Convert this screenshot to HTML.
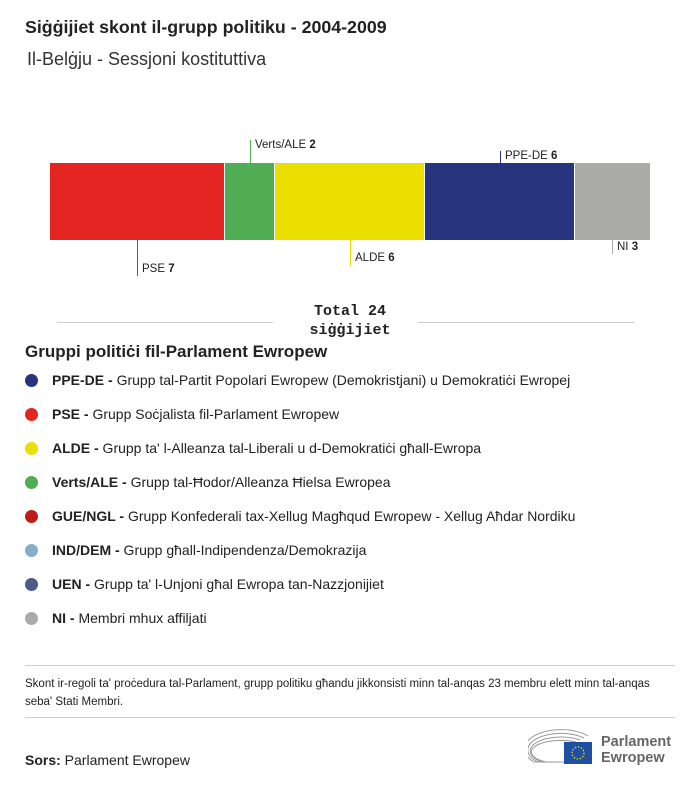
<!DOCTYPE html>
<html><head><meta charset="utf-8"><style>
body{margin:0;width:700px;height:786px;background:#fff;font-family:"Liberation Sans",sans-serif;color:#222;position:relative;overflow:hidden}
.a{position:absolute;white-space:nowrap}
.t{left:25px;top:17px;font-size:17.8px;font-weight:bold}
.s{left:27px;top:49px;font-size:18px;color:#333}
.seg{position:absolute;top:163px;height:77px}
.lab{font-size:11.5px}
.lg{left:25px;font-size:14px}
.dot{display:inline-block;width:13px;height:13px;border-radius:50%;vertical-align:-2px;margin-right:14px}
.vl{position:absolute;width:1px}
</style></head><body>
<div class="a t">Siġġijiet skont il-grupp politiku - 2004-2009</div>
<div class="a s">Il-Belġju - Sessjoni kostituttiva</div>

<div class="seg" style="left:50px;width:174px;background:#e42522"></div>
<div class="seg" style="left:225px;width:49px;background:#50ad54"></div>
<div class="seg" style="left:275px;width:149px;background:#ebdf00"></div>
<div class="seg" style="left:425px;width:149px;background:#27357e"></div>
<div class="seg" style="left:575px;width:75px;background:#aaaaa9"></div>

<div class="vl" style="left:250px;top:140px;height:23px;background:#50ad54"></div>
<div class="a lab" style="left:255px;top:139px">Verts/ALE <b>2</b></div>
<div class="vl" style="left:500px;top:151px;height:12px;background:#27357e"></div>
<div class="a lab" style="left:505px;top:150px">PPE-DE <b>6</b></div>
<div class="vl" style="left:137px;top:240px;height:36px;background:#e42522"></div>
<div class="a lab" style="left:142px;top:263px">PSE <b>7</b></div>
<div class="vl" style="left:350px;top:240px;height:26px;background:#ebdf00"></div>
<div class="a lab" style="left:355px;top:252px">ALDE <b>6</b></div>
<div class="vl" style="left:612px;top:240px;height:14px;background:#aaa"></div>
<div class="a lab" style="left:617px;top:241px">NI <b>3</b></div>

<div class="a" style="left:57px;top:322px;width:216px;height:1px;background:#ccc"></div>
<div class="a" style="left:418px;top:322px;width:216px;height:1px;background:#ccc"></div>
<div class="a" style="left:300px;top:302px;width:100px;text-align:center;font-family:'Liberation Mono',monospace;font-weight:bold;font-size:15px;line-height:19px">Total 24<br>siġġijiet</div>

<div class="a" style="left:25px;top:342px;font-size:17px;font-weight:bold">Gruppi politiċi fil-Parlament Ewropew</div>
<div class="a lg" style="top:372px"><span class="dot" style="background:#27357e"></span><b>PPE-DE -</b> Grupp tal-Partit Popolari Ewropew (Demokristjani) u Demokratiċi Ewropej</div>
<div class="a lg" style="top:406px"><span class="dot" style="background:#e42522"></span><b>PSE -</b> Grupp Soċjalista fil-Parlament Ewropew</div>
<div class="a lg" style="top:440px"><span class="dot" style="background:#ebdf00"></span><b>ALDE -</b> Grupp ta' l-Alleanza tal-Liberali u d-Demokratiċi għall-Ewropa</div>
<div class="a lg" style="top:474px"><span class="dot" style="background:#50ad54"></span><b>Verts/ALE -</b> Grupp tal-Ħodor/Alleanza Ħielsa Ewropea</div>
<div class="a lg" style="top:508px"><span class="dot" style="background:#c01b1b"></span><b>GUE/NGL -</b> Grupp Konfederali tax-Xellug Magħqud Ewropew - Xellug Aħdar Nordiku</div>
<div class="a lg" style="top:542px"><span class="dot" style="background:#86aecb"></span><b>IND/DEM -</b> Grupp għall-Indipendenza/Demokrazija</div>
<div class="a lg" style="top:576px"><span class="dot" style="background:#4d5b8a"></span><b>UEN -</b> Grupp ta' l-Unjoni għal Ewropa tan-Nazzjonijiet</div>
<div class="a lg" style="top:610px"><span class="dot" style="background:#aaa"></span><b>NI -</b> Membri mhux affiljati</div>

<div class="a" style="left:25px;top:665px;width:650px;height:1px;background:#ccc"></div>
<div class="a" style="left:25px;top:675px;width:648px;font-size:11.5px;line-height:18px;white-space:normal">Skont ir-regoli ta' proċedura tal-Parlament, grupp politiku għandu jikkonsisti minn tal-anqas 23 membru elett minn tal-anqas seba' Stati Membri.</div>
<div class="a" style="left:25px;top:717px;width:650px;height:1px;background:#ccc"></div>
<div class="a" style="left:25px;top:752px;font-size:14px"><b>Sors:</b> Parlament Ewropew</div>

<svg class="a" style="left:528px;top:728px" width="68" height="38">
<g fill="none" stroke="#999" stroke-width="1">
<path d="M36 34 H6 A30 16 0 0 1 60 8"/><path d="M36 34 H10 A26 13 0 0 1 56 10"/><path d="M36 34 H14 A22 10 0 0 1 52 12"/><path d="M36 34 H18 A18 7 0 0 1 48 14"/>
</g>
<rect x="36" y="14" width="28" height="22" fill="#1e4fa0"/>
<circle cx="50" cy="25" r="6" fill="none" stroke="#f3d000" stroke-width="1.3" stroke-dasharray="1.5 1.6"/>
</svg>
<div class="a" style="left:601px;top:734px;font-size:14.5px;font-weight:bold;color:#666;line-height:16px">Parlament<br>Ewropew</div>
</body></html>
